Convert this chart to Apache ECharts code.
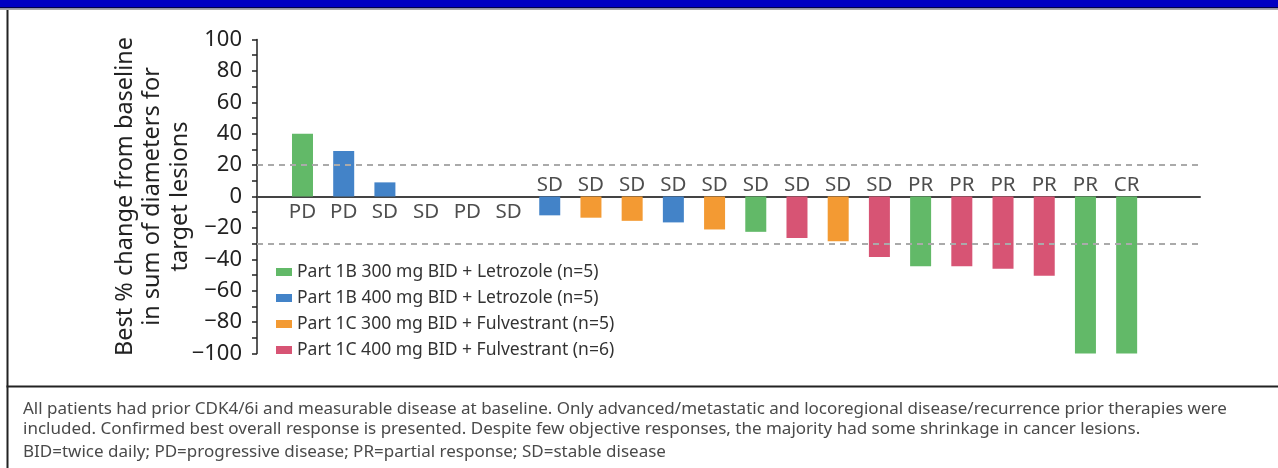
<!DOCTYPE html>
<html><head><meta charset="utf-8">
<script src="https://cdn.jsdelivr.net/npm/echarts@6/dist/echarts.min.js"></script>
<style>html,body{margin:0;padding:0;background:#fff}#c{width:1278px;height:468px}</style>
</head><body><div id="c"></div>
<script>
// ---- data ----
const groupNames = [
  'Part 1B 300 mg BID + Letrozole (n=5)',
  'Part 1B 400 mg BID + Letrozole (n=5)',
  'Part 1C 300 mg BID + Fulvestrant (n=5)',
  'Part 1C 400 mg BID + Fulvestrant (n=6)'
];
const groupColors = ['#62B968', '#4383C8', '#F39A33', '#D75474'];
const patientGroup = [0,1,1,1,2,3,1,2,2,1,2,0,3,2,3,0,3,3,3,0,0];
const bestChange = [40,29,9,0,0,0,-12,-13.5,-15.5,-16.5,-21,-22.5,-26.5,-28.5,-38.5,-44.5,-44.5,-46,-50.5,-100,-100];
const responses = ['PD','PD','SD','SD','PD','SD','SD','SD','SD','SD','SD','SD','SD','SD','SD','PR','PR','PR','PR','PR','CR'];
const thresholds = [20, -30];
const yAxisName = 'Best % change from baseline\nin sum of diameters for\ntarget lesions';
const footnotes = [
  'All patients had prior CDK4/6i and measurable disease at baseline. Only advanced/metastatic and locoregional disease/recurrence prior therapies were',
  'included. Confirmed best overall response is presented. Despite few objective responses, the majority had some shrinkage in cancer lesions.',
  'BID=twice daily; PD=progressive disease; PR=partial response; SD=stable disease'
];

const FONT = '"Noto Sans", "Open Sans", sans-serif';
const chart = echarts.init(document.getElementById('c'), null, {renderer: 'canvas'});

const barSeries = groupNames.map((name, g) => ({
  name: name,
  type: 'bar',
  barWidth: 21,
  barGap: '-100%',
  itemStyle: {color: groupColors[g]},
  data: bestChange.map((v, i) => patientGroup[i] === g ? [i, v] : null).filter(d => d !== null),
  markLine: g === 0 ? {
    silent: true,
    symbol: 'none',
    label: {show: false},
    lineStyle: {color: '#AAAAAA', type: [6, 5], width: 2},
    data: thresholds.map(t => ({yAxis: t}))
  } : undefined,
  z: 2
}));

const labelSeries = {
  type: 'scatter',
  symbolSize: 0,
  silent: true,
  z: 5,
  data: responses.map((r, i) => ({
    value: [i, 0],
    label: {position: bestChange[i] >= 0 ? 'bottom' : 'top', distance: bestChange[i] >= 0 ? 5 : 1}
  })),
  label: {
    show: true,
    formatter: p => responses[p.dataIndex],
    fontSize: 20.5,
    fontFamily: FONT,
    color: '#222'
  }
};

const graphics = [
  {type: 'rect', shape: {x: 0, y: 0, width: 1278, height: 8}, style: {fill: '#0000C2'}, silent: true},
  {type: 'rect', shape: {x: 0, y: 7, width: 1278, height: 1.5}, style: {fill: '#00004A'}, silent: true},
  {type: 'rect', shape: {x: 0, y: 8.5, width: 1278, height: 1.5}, style: {fill: '#A8A8A8'}, silent: true},
  {type: 'rect', shape: {x: 6.5, y: 10, width: 2, height: 458}, style: {fill: '#222'}, silent: true},
  {type: 'rect', shape: {x: 6.5, y: 385.5, width: 1272, height: 2}, style: {fill: '#222'}, silent: true}
];
const footY = [408, 428, 451];
footnotes.forEach((t, k) => {
  graphics.push({
    type: 'text', left: 23, top: footY[k] - 7, silent: true,
    style: {text: t, fontSize: 17, fontFamily: FONT, fill: '#4a4a4a'}
  });
});

chart.setOption({
  backgroundColor: '#fff',
  animation: false,
  grid: {left: 257, top: 39.5, width: 943, height: 314},
  legend: {
    data: groupNames,
    orient: 'vertical',
    left: 276, top: 262,
    padding: 0,
    icon: 'rect',
    itemWidth: 16, itemHeight: 8, itemGap: 6,
    textStyle: {fontSize: 17.5, fontFamily: FONT, color: '#333', lineHeight: 20}
  },
  xAxis: {
    type: 'value',
    min: -1.104, max: 21.78,
    axisLine: {show: true, onZero: true, lineStyle: {color: '#444', width: 2}},
    axisTick: {show: false},
    axisLabel: {show: false},
    splitLine: {show: false}
  },
  yAxis: {
    type: 'value',
    min: -100, max: 100, interval: 20,
    name: yAxisName,
    nameLocation: 'middle',
    nameGap: 63,
    nameMoveOverlap: false,
    nameTextStyle: {fontSize: 23.5, fontFamily: FONT, color: '#222', lineHeight: 27.5, align: 'center'},
    axisLine: {show: true, onZero: false, lineStyle: {color: '#222', width: 1.5}},
    axisTick: {show: true, length: 5, lineStyle: {color: '#222', width: 1.5}},
    minorTick: {show: true, splitNumber: 2, length: 5, lineStyle: {color: '#222', width: 1.5}},
    axisLabel: {
      fontSize: 22, fontFamily: FONT, color: '#222', margin: 15,
      formatter: v => v < 0 ? '\u2212' + Math.abs(v) : String(v)
    },
    splitLine: {show: false}
  },
  graphic: graphics,
  series: barSeries.concat([labelSeries])
});
</script></body></html>
